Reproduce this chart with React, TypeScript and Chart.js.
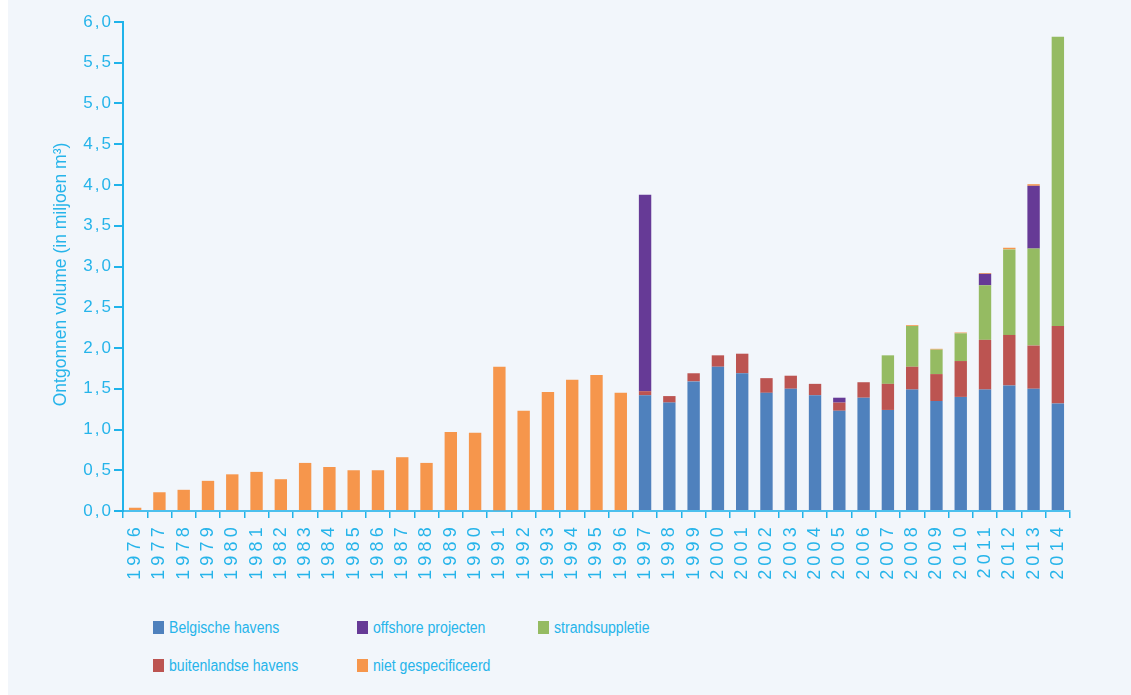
import React, { useEffect, useRef } from 'react';
import { Chart, registerables } from 'chart.js';

Chart.register(...registerables);

const YEARS = [
  '1976', '1977', '1978', '1979', '1980', '1981', '1982', '1983', '1984', '1985',
  '1986', '1987', '1988', '1989', '1990', '1991', '1992', '1993', '1994', '1995',
  '1996', '1997', '1998', '1999', '2000', '2001', '2002', '2003', '2004', '2005',
  '2006', '2007', '2008', '2009', '2010', '2011', '2012', '2013', '2014',
];

const BELGISCHE_HAVENS = [
  0, 0, 0, 0, 0, 0, 0, 0, 0, 0, 0, 0, 0, 0, 0, 0.01, 0, 0, 0, 0, 0,
  1.42, 1.33, 1.59, 1.77, 1.69, 1.45, 1.5, 1.42, 1.23, 1.39, 1.24, 1.49, 1.35, 1.4, 1.49, 1.54, 1.5, 1.32,
];
const BUITENLANDSE_HAVENS = [
  0, 0, 0, 0, 0, 0, 0, 0, 0, 0, 0, 0, 0, 0, 0, 0, 0, 0, 0, 0, 0,
  0.05, 0.08, 0.1, 0.14, 0.24, 0.18, 0.16, 0.14, 0.1, 0.19, 0.32, 0.28, 0.33, 0.44, 0.61, 0.62, 0.53, 0.95,
];
const STRANDSUPPLETIE = [
  0, 0, 0, 0, 0, 0, 0, 0, 0, 0, 0, 0, 0, 0, 0, 0, 0, 0, 0, 0, 0,
  0, 0, 0, 0, 0, 0, 0, 0, 0, 0, 0.35, 0.5, 0.3, 0.34, 0.67, 1.05, 1.19, 3.55,
];
const OFFSHORE_PROJECTEN = [
  0, 0, 0, 0, 0, 0, 0, 0, 0, 0, 0, 0, 0, 0, 0, 0, 0, 0, 0, 0, 0,
  2.41, 0, 0, 0, 0, 0, 0, 0, 0.06, 0, 0, 0, 0, 0, 0.14, 0, 0.77, 0,
];
const NIET_GESPECIFIEERD = [
  0.04, 0.23, 0.26, 0.37, 0.45, 0.48, 0.39, 0.59, 0.54, 0.5, 0.5, 0.66, 0.59, 0.97, 0.96, 1.76, 1.23, 1.46, 1.61, 1.67, 1.45,
  0, 0, 0, 0, 0, 0, 0, 0, 0, 0, 0, 0.01, 0.01, 0.01, 0.01, 0.02, 0.02, 0,
];

const Y_TICK_MIN = 0;
const Y_TICK_MAX = 6;
const Y_TICK_STEP = 0.5;
const Y_TITLE = 'Ontgonnen volume (in miljoen m\u00b3)';

const BG = '#f2f6fb';
const AXIS = '#1fb3ea';
const AXIS_X = '#4cc0ee';
const TEXT = '#26b4ea';
const FONT = '"Liberation Sans", Arial, Helvetica, sans-serif';

const C_BLUE = '#4f81bd';
const C_RED = '#bc5451';
const C_GREEN = '#95bb62';
const C_PURPLE = '#663a96';
const C_ORANGE = '#f6964c';

const LEGEND = [
  { label: 'Belgische havens', color: C_BLUE, left: 145, top: 621 },
  { label: 'offshore projecten', color: C_PURPLE, left: 349, top: 621 },
  { label: 'strandsuppletie', color: C_GREEN, left: 530, top: 621 },
  { label: 'buitenlandse havens', color: C_RED, left: 145, top: 659 },
  { label: 'niet gespecificeerd', color: C_ORANGE, left: 349, top: 659 },
];

function wrapMethod(scale: any, name: string, spacing: string, dy = 0) {
  if (!scale) return;
  const key = '__wrapped_' + name;
  if (scale[key]) return;
  scale[key] = true;
  const orig = scale[name].bind(scale);
  scale[name] = (...args: any[]) => {
    const c = scale.ctx;
    c.save();
    try {
      (c as any).letterSpacing = spacing;
    } catch (e) {}
    if (dy) c.translate(0, dy);
    orig(...args);
    c.restore();
  };
}

const spacingPlugin = {
  id: 'spacingPlugin',
  afterLayout(chart: any) {
    wrapMethod(chart.scales.x, 'drawLabels', '4.2px');
    wrapMethod(chart.scales.y, 'drawLabels', '2px');
    wrapMethod(chart.scales.y, 'drawTitle', '0px', 8);
  },
};

export default function App() {
  const ref = useRef<HTMLCanvasElement | null>(null);

  useEffect(() => {
    if (!ref.current) return;
    const chart = new Chart(ref.current, {
      type: 'bar',
      data: {
        labels: YEARS,
        datasets: [
          { label: 'Belgische havens', data: BELGISCHE_HAVENS, backgroundColor: C_BLUE, stack: 's' },
          { label: 'buitenlandse havens', data: BUITENLANDSE_HAVENS, backgroundColor: C_RED, stack: 's' },
          { label: 'strandsuppletie', data: STRANDSUPPLETIE, backgroundColor: C_GREEN, stack: 's' },
          { label: 'offshore projecten', data: OFFSHORE_PROJECTEN, backgroundColor: C_PURPLE, stack: 's' },
          { label: 'niet gespecificeerd', data: NIET_GESPECIFIEERD, backgroundColor: C_ORANGE, stack: 's' },
        ],
      },
      options: {
        animation: false,
        responsive: false,
        maintainAspectRatio: false,
        datasets: { bar: { categoryPercentage: 1, barPercentage: 0.51, borderWidth: 0 } },
        layout: { padding: { left: 0, right: 61, top: 22, bottom: 0 } },
        plugins: { legend: { display: false }, tooltip: { enabled: false }, title: { display: false } },
        scales: {
          x: {
            stacked: true,
            grid: {
              display: true,
              drawOnChartArea: false,
              drawTicks: true,
              tickLength: 7,
              color: AXIS,
              lineWidth: 1.5,
              offset: true,
            },
            border: { display: true, color: AXIS_X, width: 2 },
            ticks: {
              color: TEXT,
              font: { family: FONT, size: 18 },
              maxRotation: 90,
              minRotation: 90,
              autoSkip: false,
              padding: 5,
            },
            afterFit: (s: any) => {
              s.height = 89;
              s.paddingLeft = 0;
              s.paddingRight = 0;
            },
          },
          y: {
            stacked: true,
            min: Y_TICK_MIN,
            max: Y_TICK_MAX,
            grid: {
              display: true,
              drawOnChartArea: false,
              drawTicks: true,
              tickLength: 9,
              color: AXIS,
              lineWidth: 2,
            },
            border: { display: true, color: AXIS, width: 2 },
            ticks: {
              stepSize: Y_TICK_STEP,
              color: TEXT,
              font: { family: FONT, size: 17 },
              padding: 1,
              callback: (v: any) => Number(v).toFixed(1).replace('.', ','),
            },
            title: {
              display: true,
              text: Y_TITLE,
              color: TEXT,
              font: { family: FONT, size: 17.5 },
              padding: { top: 43, bottom: 0 },
            },
            afterFit: (s: any) => {
              s.width = 115;
              s.paddingTop = 0;
              s.paddingBottom = 0;
            },
          },
        },
      },
      plugins: [spacingPlugin],
    });
    chart.draw();
    return () => chart.destroy();
  }, []);

  return (
    <div
      style={{
        position: 'fixed',
        left: 8,
        top: 0,
        width: 1123,
        height: 695,
        background: BG,
        overflow: 'hidden',
      }}
    >
      <canvas
        ref={ref}
        width={1123}
        height={600}
        style={{ position: 'absolute', left: 0, top: 0, width: 1123, height: 600 }}
      />
      {LEGEND.map((it) => (
        <div
          key={it.label}
          style={{
            position: 'absolute',
            left: it.left,
            top: it.top,
            height: 13,
            display: 'flex',
            alignItems: 'center',
            whiteSpace: 'nowrap',
          }}
        >
          <span style={{ display: 'inline-block', width: 11, height: 13, background: it.color, flex: 'none' }} />
          <span
            style={{
              marginLeft: 5,
              fontFamily: FONT,
              fontSize: 16,
              lineHeight: '13px',
              color: TEXT,
              display: 'inline-block',
              transform: 'scaleX(0.88)',
              transformOrigin: 'left center',
            }}
          >
            {it.label}
          </span>
        </div>
      ))}
    </div>
  );
}
